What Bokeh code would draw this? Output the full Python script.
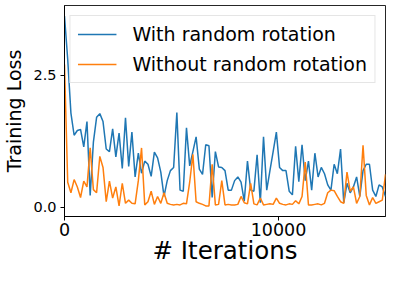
from bokeh.plotting import figure
from bokeh.models import Range1d, FixedTicker, Legend, LegendItem, NumeralTickFormatter
from bokeh.embed import file_html
from bokeh.resources import INLINE

iterations = [i * 150 for i in range(101)]

with_rotation = [
    3.62, 2.8, 1.78, 1.36, 1.45, 1.47, 1.14, 1.62, 0.22, 1.23,
    1.7, 1.77, 1.62, 1.1, 1.05, 1.48, 0.95, 1.4, 0.73, 1.69,
    0.77, 1.42, 0.57, 1.02, 0.64, 0.87, 0.81, 0.58, 1.04, 0.93,
    0.66, 0.2, 0.5, 0.69, 0.75, 1.79, 0.32, 0.3, 1.5, 0.78,
    1.05, 1.33, 0.72, 0.62, 1.18, 1.16, 0.18, 1.05, 0.76, 0.75,
    0.69, 0.32,
    0.32, 0.5, 0.57, 0.47, 0.11, 0.87, 0.32, 0.3, 0.99, 0.08,
    1.33, 0.32, 0.69, 1.05, 1.42, 0.75, 0.69, 0.69, 0.3, 0.23,
    1.15, 0.48, 1.18, 0.5, 0.87, 0.32, 1.02, 0.57, 0.75, 0.63,
    0.42, 0.32, 0.81, 0.63, 1.1, 0.08, 0.45, 0.27, 0.38, 0.57,
    0.2, 0.69, 0.81, 0.81, 0.32, 0.2, 0.42, 0.38, 0.2,
]

without_rotation = [
    2.7, 0.47, 0.27, 0.52, 0.38, 0.18, 0.49, 0.38, 1.12, 0.33,
    0.27, 0.96, 0.75, 0.1, 0.49, 0.17, 0.38, 0.02, 0.45, 0.07,
    0.13, 0.07, 0.06, 0.5, 1.12, 0.04, 0.1, 0.3, 0.05, 0.2,
    0.07, 0.27, 0.07, 0.05, 0.04, 0.05, 0.04, 0.07, 0.06, 0.47,
    1.0, 0.1, 0.07, 0.05, 0.02, 0.02, 0.81, 0.04, 0.05, 0.5,
    0.04, 0.05,
    0.04, 0.04, 0.05, 0.2, 0.08, 0.06, 0.45, 0.06, 0.04, 0.17,
    0.04, 0.05, 0.06, 0.05, 0.17, 0.07, 0.05, 0.04, 0.06, 0.05,
    0.12, 0.06, 0.2, 0.85, 0.04, 0.04, 0.05, 0.06, 0.04, 0.07,
    0.27, 0.32, 0.31, 0.2, 0.1, 0.07, 0.66, 0.3, 0.38, 0.07,
    0.2, 1.17, 0.22, 0.04, 0.18, 0.07, 0.1, 0.13, 0.62,
]

series_labels = ["With random rotation", "Without random rotation"]
x_ticks = [0, 10000]
y_ticks = [0.0, 2.5]

FONT = "DejaVu Sans"

p = figure(width=386, height=268, output_backend="svg", toolbar_location=None,
           x_range=Range1d(0, 15000), y_range=Range1d(-0.18, 3.82),
           min_border_left=61, min_border_right=1, min_border_top=5, min_border_bottom=52)

r1 = p.line(iterations, with_rotation, line_color="#1f77b4", line_width=1.5)
r2 = p.line(iterations, without_rotation, line_color="#ff7f0e", line_width=1.5)

p.xgrid.visible = False
p.ygrid.visible = False
p.outline_line_color = "black"
p.outline_line_width = 1
p.outline_line_alpha = 0.85

p.xaxis.ticker = FixedTicker(ticks=x_ticks)
p.yaxis.ticker = FixedTicker(ticks=y_ticks)
p.xaxis.formatter = NumeralTickFormatter(format="0")
p.yaxis.formatter = NumeralTickFormatter(format="0.0")

for ax in (p.xaxis, p.yaxis):
    ax.minor_tick_line_color = None
    ax.major_tick_in = 0
    ax.major_tick_out = 4
    ax.axis_line_color = "black"
    ax.major_tick_line_color = "black"
    ax.major_label_text_font = FONT
    ax.major_label_text_color = "black"
    ax.axis_label_text_font = FONT
    ax.axis_label_text_font_style = "normal"
    ax.axis_label_text_color = "black"

p.xaxis.major_label_text_font_size = "17.5px"
p.yaxis.major_label_text_font_size = "14.5px"
p.xaxis.axis_label = "# Iterations"
p.yaxis.axis_label = "Training Loss"
p.xaxis.axis_label_text_font_size = "24.5px"
p.yaxis.axis_label_text_font_size = "19px"
p.xaxis.major_label_standoff = 2
p.yaxis.major_label_standoff = 4
p.xaxis.axis_label_standoff = -3
p.yaxis.axis_label_standoff = 5

legend = Legend(items=[LegendItem(label=series_labels[0], renderers=[r1]),
                       LegendItem(label=series_labels[1], renderers=[r2])],
                location="top_right")
legend.label_text_font = FONT
legend.label_text_font_size = "19px"
legend.label_text_color = "black"
legend.glyph_width = 39
legend.glyph_height = 20
legend.label_height = 20
legend.label_standoff = 16
legend.spacing = 8
legend.padding = 7
legend.margin = 10
legend.border_line_color = "#cccccc"
legend.border_line_width = 1
legend.background_fill_color = "white"
legend.background_fill_alpha = 0.8
p.add_layout(legend)

open("out.html", "w").write(file_html(p, INLINE))
